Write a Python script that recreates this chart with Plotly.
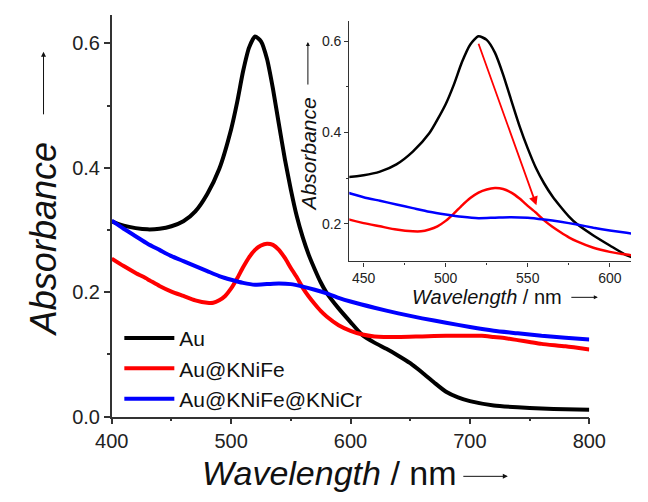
import plotly.graph_objects as go

# ---- data ----
au_wl = [400, 410, 420, 430, 440, 450, 460, 470, 480, 490, 500, 505, 510, 515, 520, 525,
         530, 535, 540, 545, 550, 555, 560, 565, 570, 575, 580, 590, 600, 610, 620, 630,
         640, 650, 660, 670, 680, 690, 700, 720, 740, 760, 780, 800]
au_abs = [0.314, 0.307, 0.303, 0.301, 0.302, 0.306, 0.314, 0.330, 0.358, 0.398, 0.462, 0.505,
          0.555, 0.593, 0.611, 0.603, 0.575, 0.527, 0.470, 0.414, 0.365, 0.322, 0.288, 0.260,
          0.237, 0.216, 0.199, 0.174, 0.152, 0.131, 0.119, 0.109, 0.098, 0.086, 0.071, 0.055,
          0.040, 0.031, 0.025, 0.018, 0.015, 0.013, 0.012, 0.011]

kfe_wl = [400, 410, 420, 430, 440, 450, 460, 470, 480, 485, 490, 495, 500, 505, 510, 515,
          520, 525, 530, 535, 540, 545, 550, 555, 560, 565, 570, 575, 580, 590, 600, 610,
          620, 640, 660, 680, 700, 710, 720, 730, 740, 750, 760, 780, 800]
kfe_abs = [0.254, 0.242, 0.231, 0.221, 0.210, 0.201, 0.194, 0.187, 0.183, 0.183, 0.187, 0.194,
           0.206, 0.222, 0.240, 0.256, 0.268, 0.275, 0.278, 0.276, 0.268, 0.255, 0.239, 0.224,
           0.207, 0.193, 0.181, 0.170, 0.161, 0.147, 0.138, 0.132, 0.129, 0.128, 0.129, 0.130,
           0.130, 0.130, 0.128, 0.126, 0.123, 0.120, 0.117, 0.113, 0.108]

kcr_wl = [400, 410, 420, 430, 440, 450, 460, 470, 480, 490, 500, 510, 520, 530, 540, 550,
          560, 570, 580, 590, 600, 620, 640, 660, 680, 700, 720, 740, 760, 780, 800]
kcr_abs = [0.315, 0.302, 0.290, 0.278, 0.268, 0.258, 0.250, 0.242, 0.234, 0.226, 0.220, 0.215,
           0.212, 0.213, 0.214, 0.213, 0.209, 0.204, 0.198, 0.191, 0.185, 0.175, 0.166, 0.158,
           0.151, 0.144, 0.138, 0.134, 0.130, 0.127, 0.124]

names = ["Au", "Au@KNiFe", "Au@KNiFe@KNiCr"]
colors = ["#000000", "#ff0000", "#0000ff"]
series = [(au_wl, au_abs), (kfe_wl, kfe_abs), (kcr_wl, kcr_abs)]

main_xticks = [400, 500, 600, 700, 800]
main_yticks = [0.0, 0.2, 0.4, 0.6]
inset_xticks = [450, 500, 550, 600]
inset_yticks = [0.2, 0.4, 0.6]

FONT = "Arial, Liberation Sans, sans-serif"
W, H = 648, 502

fig = go.Figure()
for (x, y), n, c in zip(series, names, colors):
    fig.add_trace(go.Scatter(x=x, y=y, name=n, mode="lines",
                             line=dict(color=c, width=4, shape="spline", smoothing=0.6),
                             xaxis="x", yaxis="y"))
for (x, y), n, c in zip(series, names, colors):
    fig.add_trace(go.Scatter(x=x, y=y, name=n, mode="lines", showlegend=False,
                             line=dict(color=c, width=2.5, shape="spline", smoothing=0.6),
                             xaxis="x2", yaxis="y2"))

axcol = "#333333"
common = dict(showline=True, linecolor=axcol, linewidth=1.5, ticks="outside",
              tickcolor=axcol, tickwidth=1.5, showgrid=False, zeroline=False, mirror=False)

def px2x(p):
    return p / W

def py2y(p):
    return (H - p) / H

fig.update_layout(
    width=W, height=H, margin=dict(l=0, r=0, t=0, b=0),
    paper_bgcolor="white", plot_bgcolor="rgba(0,0,0,0)",
    font=dict(family=FONT, color="#222222"),
    xaxis=dict(domain=[px2x(100), px2x(604)], range=[400, 800], anchor="y",
               tickvals=main_xticks, ticklen=6,
               minor=dict(dtick=50, ticks="outside", ticklen=3, tickcolor=axcol, tickwidth=1.5),
               tickfont=dict(size=20, family=FONT, color="#222"), **common),
    yaxis=dict(domain=[py2y(426), py2y(15)], range=[0, 0.646], anchor="x",
               tickvals=main_yticks, ticktext=["0.0", "0.2", "0.4", "0.6"], ticklen=6,
               minor=dict(dtick=0.1, ticks="outside", ticklen=3, tickcolor=axcol, tickwidth=1.5),
               tickfont=dict(size=20, family=FONT, color="#222"), **common),
    xaxis2=dict(domain=[px2x(350.7), 1.0], range=[441.3, 612.9], anchor="y2",
                tickvals=inset_xticks, ticklen=4,
                minor=dict(dtick=25, ticks="outside", ticklen=2, tickcolor=axcol, tickwidth=1),
                tickfont=dict(size=14, family=FONT, color="#222"),
                **{**common, "linewidth": 1.2, "tickwidth": 1.2}),
    yaxis2=dict(domain=[py2y(267.3), py2y(21.7)], range=[0.117, 0.644], anchor="x2",
                tickvals=inset_yticks, ticktext=["0.2", "0.4", "0.6"], ticklen=4,
                minor=dict(dtick=0.1, ticks="outside", ticklen=2, tickcolor=axcol, tickwidth=1),
                tickfont=dict(size=14, family=FONT, color="#222"),
                **{**common, "linewidth": 1.2, "tickwidth": 1.2}),
    legend=dict(x=px2x(108), y=py2y(325), xanchor="left", yanchor="top",
                bgcolor="rgba(0,0,0,0)", font=dict(size=21, family=FONT, color="#111"),
                itemwidth=50, tracegroupgap=0),
    showlegend=True,
)

ann = []
# main axis titles
ann.append(dict(text="<i>Absorbance</i>", x=px2x(28), y=py2y(245), xref="paper", yref="paper",
                showarrow=False, textangle=-90, font=dict(size=36, family=FONT, color="#111"),
                xanchor="center", yanchor="middle"))
ann.append(dict(text="", x=px2x(28), y=py2y(53), xref="paper", yref="paper",
                ax=0, ay=64, showarrow=True, arrowhead=2, arrowsize=1, arrowwidth=1,
                arrowcolor="#111"))
ann.append(dict(text="<i>Wavelength</i> / nm", x=px2x(330), y=py2y(484), xref="paper", yref="paper",
                showarrow=False, font=dict(size=34, family=FONT, color="#111"),
                xanchor="center", yanchor="middle"))
ann.append(dict(text="", x=px2x(518), y=py2y(487), xref="paper", yref="paper",
                ax=-46, ay=0, showarrow=True, arrowhead=2, arrowsize=1, arrowwidth=1,
                arrowcolor="#111"))
# inset titles
ann.append(dict(text="<i>Absorbance</i>", x=px2x(308), y=py2y(158), xref="paper", yref="paper",
                showarrow=False, textangle=-90, font=dict(size=21, family=FONT, color="#111"),
                xanchor="center", yanchor="middle"))
ann.append(dict(text="", x=px2x(307), y=py2y(43), xref="paper", yref="paper",
                ax=0, ay=44, showarrow=True, arrowhead=2, arrowsize=0.8, arrowwidth=1,
                arrowcolor="#111"))
ann.append(dict(text="<i>Wavelength</i> / nm", x=px2x(496), y=py2y(304), xref="paper", yref="paper",
                showarrow=False, font=dict(size=20, family=FONT, color="#111"),
                xanchor="center", yanchor="middle"))
ann.append(dict(text="", x=px2x(613), y=py2y(304), xref="paper", yref="paper",
                ax=-28, ay=0, showarrow=True, arrowhead=2, arrowsize=0.8, arrowwidth=1,
                arrowcolor="#111"))
# red arrow in inset
ann.append(dict(text="", x=555.3, y=0.240, xref="x2", yref="y2",
                ax=519.7, ay=0.598, axref="x2", ayref="y2",
                showarrow=True, arrowhead=2, arrowsize=1, arrowwidth=1.8,
                arrowcolor="#ff0000"))
fig.update_layout(annotations=ann)

fig.write_html("out.html")
